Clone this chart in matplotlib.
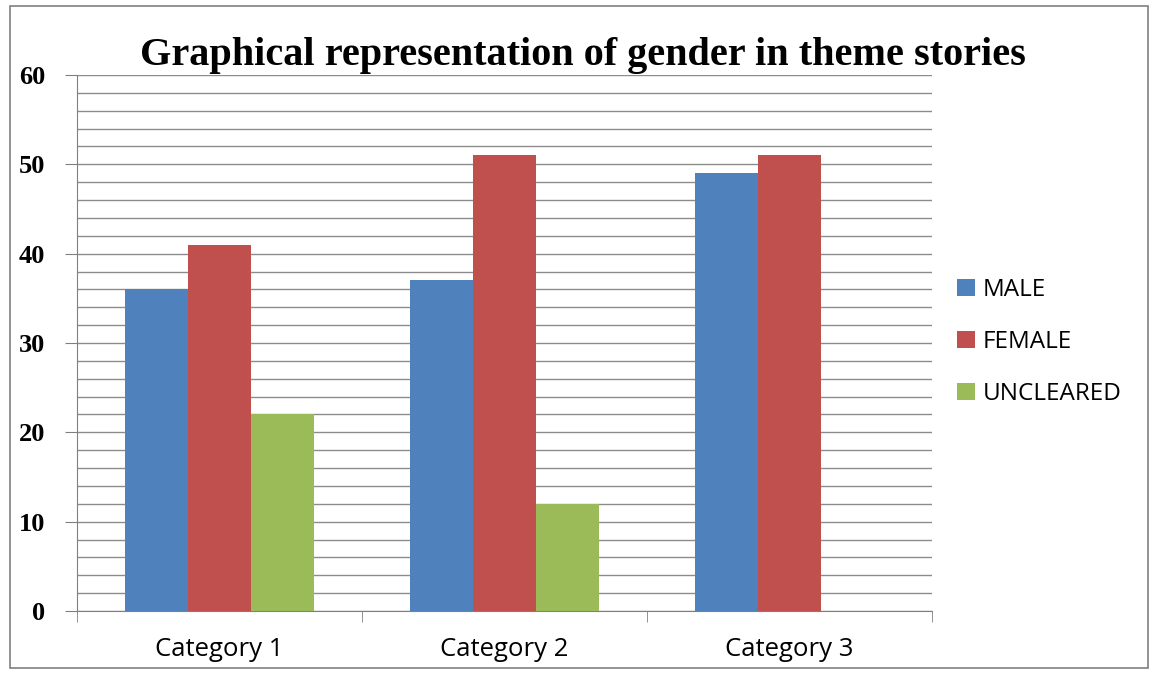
import matplotlib
matplotlib.use("Agg")
import matplotlib.pyplot as plt
import numpy as np
from matplotlib.patches import Rectangle
from matplotlib.ticker import MultipleLocator

categories = ["Category 1", "Category 2", "Category 3"]
series_names = ["MALE", "FEMALE", "UNCLEARED"]
male = [36, 37, 49]
female = [41, 51, 51]
uncleared = [22, 12, 0]
colors = ["#4F81BD", "#C0504D", "#9BBB59"]
title = "Graphical representation of gender in theme stories"

fig = plt.figure(figsize=(11.55, 6.74), dpi=100)
ax = fig.add_axes([77/1155, 63/674, (932-77)/1155, (611-75)/674])

x = np.arange(len(categories))
w = 0.221
data = [male, female, uncleared]
handles = []
for i, (vals, c, name) in enumerate(zip(data, colors, series_names)):
    b = ax.bar(x + (i - 1) * w, vals, width=w, color=c, label=name, zorder=3)
    handles.append(b)

ax.set_xlim(-0.5, len(categories) - 0.5)
ax.set_ylim(0, 60)
ax.yaxis.set_major_locator(MultipleLocator(10))
ax.yaxis.set_minor_locator(MultipleLocator(2))
ax.grid(axis="y", which="both", color="#8c8c8c", linewidth=1.0, zorder=0)
ax.set_xticks(x)
ax.set_xticklabels(categories, fontsize=18.5, family="Open Sans")
ax.set_xticks(np.arange(len(categories) + 1) - 0.5, minor=True)
ax.tick_params(axis="x", which="major", length=0, pad=19)
ax.tick_params(axis="x", which="minor", length=8, color="#808080")
ax.tick_params(axis="y", which="major", length=9, color="#808080", pad=14)
ax.tick_params(axis="y", which="minor", length=0)
for lbl in ax.get_yticklabels():
    lbl.set_fontfamily("Liberation Serif")
    lbl.set_fontweight("bold")
    lbl.set_fontsize(19)
for s in ["top", "right"]:
    ax.spines[s].set_visible(False)
ax.spines["left"].set_color("#808080")
ax.spines["bottom"].set_color("#808080")

fig.text(583/1155, 1 - 55/674, title, ha="center", va="center",
         fontsize=29, fontweight="bold", family="Liberation Serif")

leg = fig.legend(handles=handles, labels=series_names, loc="center left",
                 bbox_to_anchor=(935/1155, 1 - 342/674), frameon=False,
                 prop={"family": "Open Sans", "size": 17.5},
                 handlelength=0.75, handleheight=0.75, handletextpad=0.3,
                 labelspacing=1.15)

fig.patches.append(Rectangle((10/1155, 6/674), 1138/1155, 662/674,
                             transform=fig.transFigure, fill=False,
                             edgecolor="#808080", linewidth=1.2))

fig.savefig("out.png", dpi=100)
